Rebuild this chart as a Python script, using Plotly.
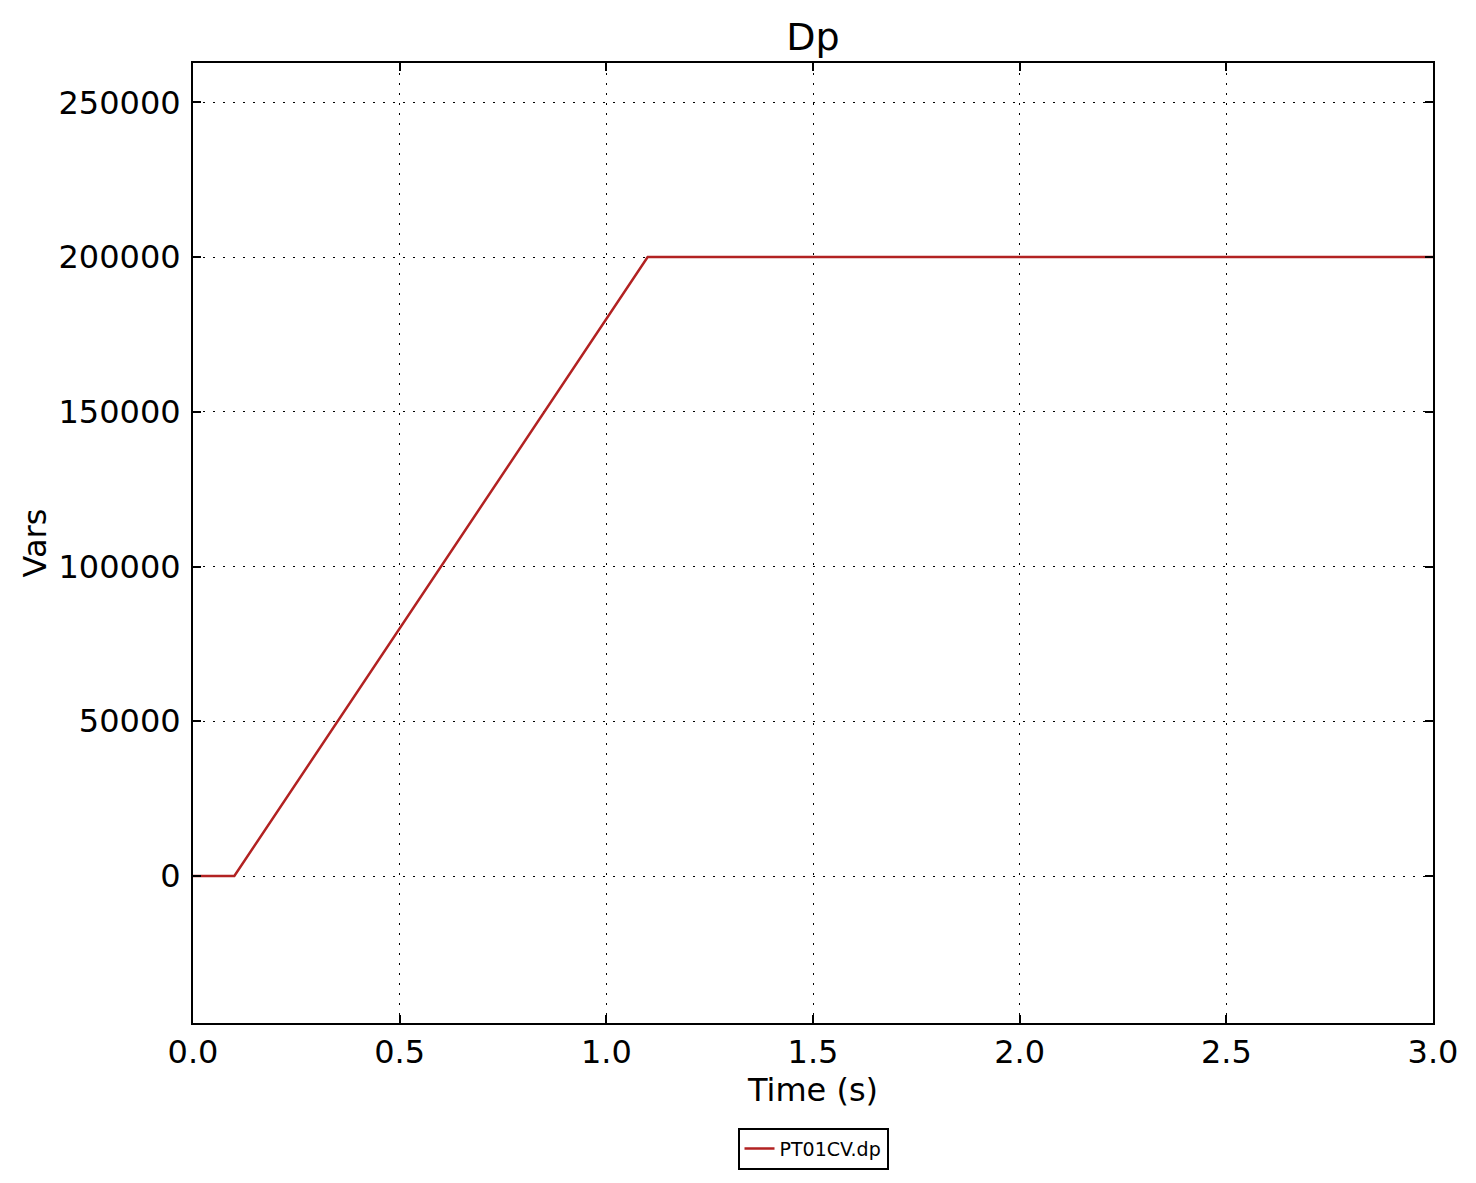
import plotly.graph_objects as go

time_s = [0.0, 0.1, 1.1, 3.0]
dp_vals = [0.0, 0.0, 200000.0, 200000.0]
x_ticks = [0.0, 0.5, 1.0, 1.5, 2.0, 2.5, 3.0]
x_tick_labels = ["0.0", "0.5", "1.0", "1.5", "2.0", "2.5", "3.0"]
y_ticks = [0, 50000, 100000, 150000, 200000, 250000]
y_tick_labels = ["0", "50000", "100000", "150000", "200000", "250000"]

fig = go.Figure()
fig.add_trace(go.Scatter(x=time_s, y=dp_vals, mode="lines", name="PT01CV.dp",
                         line=dict(color="#b22222", width=2.5)))

font = "DejaVu Sans"
axis_common = dict(
    showline=True, linecolor="black", linewidth=2, mirror="ticks",
    ticks="inside", ticklen=8, tickwidth=1.5, tickcolor="black",
    showgrid=True, gridcolor="black", gridwidth=1, griddash="2px,8px",
    zeroline=False, layer="above traces",
    tickfont=dict(family=font, size=32, color="black"),
)
fig.update_xaxes(range=[0, 3], tickvals=x_ticks, ticktext=x_tick_labels,
                 ticklabelstandoff=0,
                 title=dict(text="Time (s)", font=dict(family=font, size=32, color="black"), standoff=2),
                 **axis_common)
fig.update_yaxes(range=[-47500, 262700], tickvals=y_ticks, ticktext=y_tick_labels,
                 ticklabelstandoff=4,
                 title=dict(text="Vars", font=dict(family=font, size=32, color="black"), standoff=2),
                 **axis_common)

fig.update_layout(
    width=1468, height=1175,
    margin=dict(l=185, r=43, t=55, b=160),
    paper_bgcolor="white", plot_bgcolor="white",
    title=dict(text="Dp", x=0.5, xanchor="center", y=1 - 29/1175, yanchor="middle",
               xref="paper", font=dict(family=font, size=38, color="black")),
    showlegend=True,
    legend=dict(x=0.5, xanchor="center", y=-0.109, yanchor="top",
                bordercolor="black", borderwidth=2, bgcolor="white",
                font=dict(family=font, size=19, color="black")),
)
fig.write_html("out.html")
